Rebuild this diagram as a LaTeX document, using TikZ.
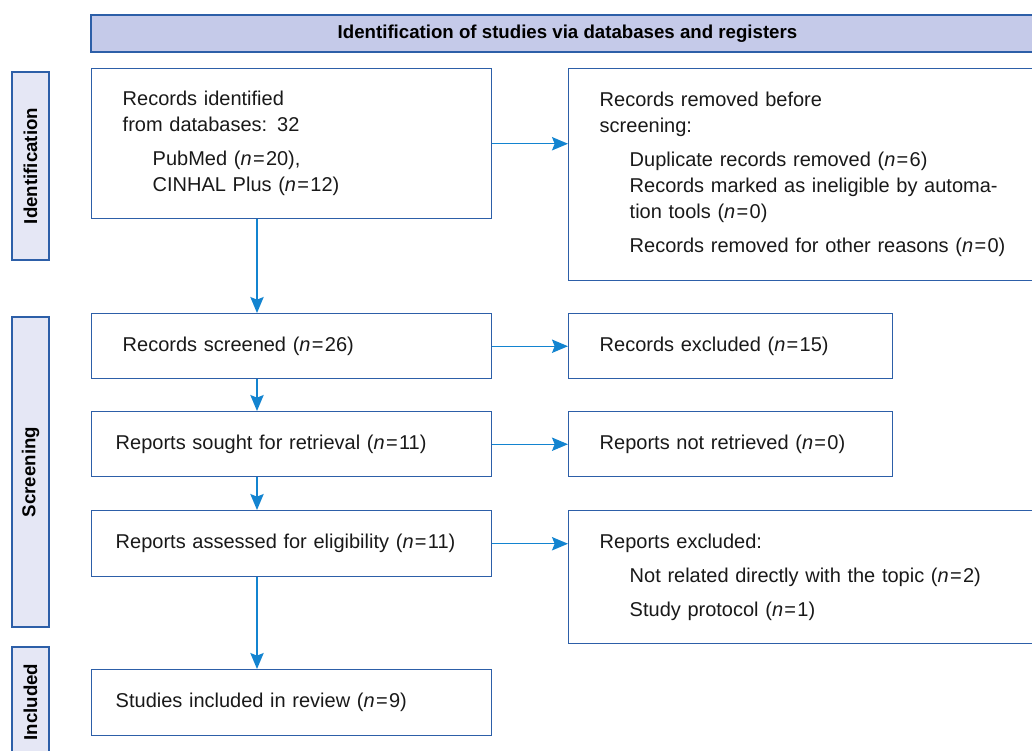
\documentclass[tikz,border=0pt]{standalone}
\usepackage{fontspec}
\setmainfont{Liberation Sans}
\usetikzlibrary{arrows.meta,positioning,calc}

\definecolor{boxblue}{HTML}{2D5FA8}
\definecolor{arrowblue}{HTML}{1384D0}
\definecolor{headfill}{HTML}{C5CAE9}
\definecolor{sidefill}{HTML}{E5E7F5}

\tikzset{
  box/.style={draw=boxblue, line width=1.1pt, anchor=north west, align=left,
    inner ysep=0pt, text=black!90, font=\fontsize{15}{19.5}\selectfont},
  head/.style={draw=boxblue, line width=1.1pt, fill=headfill, inner sep=0pt,
    font=\bfseries\fontsize{14}{16}\selectfont},
  side/.style={draw=boxblue, line width=1.1pt, fill=sidefill, inner sep=0pt,
    rotate=90, font=\bfseries\fontsize{14}{16}\selectfont},
  arr/.style={draw=arrowblue, line width=1.1pt,
    -{Stealth[length=12pt, width=10pt, inset=2pt]}}
}
\newcommand{\sub}{\hspace*{22.5pt}}
\newcommand{\nn}[1]{(\textit{n}\kern1pt=\kern1pt#1)}

\begin{document}
\begin{tikzpicture}[x=0.75pt, y=-0.75pt]
    \useasboundingbox (0,0) rectangle (1032,750);
    \clip (0,0) rectangle (1032,750);

    % header and phase labels
    \node[head, minimum width=714.75pt, minimum height=27.75pt] (hdr) at (567.5,33.5)
        {Identification of studies via databases and registers};
    \node[side, minimum width=141pt, minimum height=27.75pt] (idlab) at (30.5,166) {Identification};
    \node[side, minimum width=232.5pt, minimum height=27.75pt] (scrlab) at (30.5,472) {Screening};
    \node[side, minimum width=82.5pt, minimum height=27.75pt] (inclab) at (30.5,702) {Included};

    % main column
    \node[box, inner xsep=23.25pt, text width=253.5pt, minimum height=112.5pt] (ident) at (91,68)
        {Records identified\\from databases: 32\\[6pt]
         \sub PubMed \nn{20},\\\sub CINHAL Plus \nn{12}};
    \node[box, inner xsep=23.25pt, text width=253.5pt, minimum height=48.75pt] (screen) at (91,313)
        {Records screened \nn{26}};
    \node[box, inner xsep=18pt, text width=264pt, minimum height=48.75pt] (sought) at (91,411)
        {Reports sought for retrieval \nn{11}};
    \node[box, inner xsep=18pt, text width=264pt, minimum height=49.5pt] (assess) at (91,510)
        {Reports assessed for eligibility \nn{11}};
    \node[box, inner xsep=18pt, text width=264pt, minimum height=49.5pt] (studies) at (91,669)
        {Studies included in review \nn{9}};

    % side column
    \node[box, inner xsep=23.25pt, text width=330pt, minimum height=159pt] (removed) at (568,68)
        {Records removed before\\screening:\\[6pt]
         \sub Duplicate records removed \nn{6}\\
         \sub Records marked as ineligible by automa-\\
         \sub tion tools \nn{0}\\[6pt]
         \sub Records removed for other reasons \nn{0}};
    \node[box, inner xsep=23.25pt, text width=196.5pt, minimum height=48.75pt] (rexcl) at (568,313)
        {Records excluded \nn{15}};
    \node[box, inner xsep=23.25pt, text width=196.5pt, minimum height=48.75pt] (notret) at (568,411)
        {Reports not retrieved \nn{0}};
    \node[box, inner xsep=23.25pt, text width=330pt, minimum height=99.75pt] (repexcl) at (568,510)
        {Reports excluded:\\[6pt]
         \sub Not related directly with the topic \nn{2}\\[6pt]
         \sub Study protocol \nn{1}};

    \coordinate (spine) at (257,0);

    \draw[arr] (ident.south -| spine)  -- (screen.north -| spine);
    \draw[arr] (screen.south -| spine) -- (sought.north -| spine);
    \draw[arr] (sought.south -| spine) -- (assess.north -| spine);
    \draw[arr] (assess.south -| spine) -- (studies.north -| spine);

    \draw[arr] (ident.east)  -- (ident.east -| removed.west);
    \draw[arr] (screen.east) -- (rexcl.west);
    \draw[arr] (sought.east) -- (notret.west);
    \draw[arr] (assess.east) -- (assess.east -| repexcl.west);
\end{tikzpicture}
\end{document}
